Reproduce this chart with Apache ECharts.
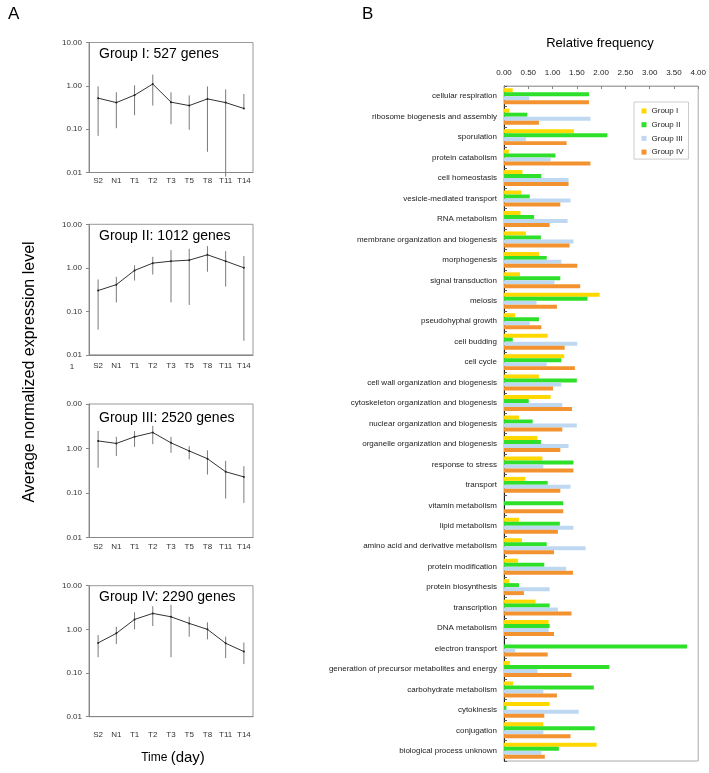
<!DOCTYPE html>
<html><head><meta charset="utf-8">
<script src="https://cdn.jsdelivr.net/npm/echarts@6/dist/echarts.min.js"></script>
<style>html,body{margin:0;padding:0;background:#fff}#c{width:709px;height:773px}</style>
</head><body><div id="c"></div>
<script>
// ---------- Panel A data ----------
const timePoints = ['S2','N1','T1','T2','T3','T5','T8','T11','T14'];
const yTickLabels = ['0.01','0.10','1.00','10.00'];
const yTickLabelsGroup3 = ['0.01','0.10','1.00','0.00'];
const groupTitles = ['Group I: 527 genes','Group II: 1012 genes','Group III: 2520 genes','Group IV: 2290 genes'];

const g1Mean = [0.52,0.41,0.61,1.10,0.42,0.35,0.50,0.41,0.30];
const g1High = [0.97,0.71,1.03,1.82,0.71,0.60,0.97,0.83,0.65];
const g1Low  = [0.07,0.105,0.21,0.35,0.13,0.097,0.03,0.008,0.30];

const g2Mean = [0.30,0.41,0.87,1.28,1.42,1.50,1.99,1.42,1.00];
const g2High = [0.54,0.62,1.15,1.79,2.55,2.73,3.15,2.42,1.86];
const g2Low  = [0.038,0.16,0.51,0.70,0.16,0.14,0.81,0.37,0.021];

const g3Mean = [1.48,1.30,1.83,2.29,1.34,0.88,0.59,0.30,0.23];
const g3High = [2.49,1.83,2.45,3.23,1.83,1.13,0.91,0.53,0.40];
const g3Low  = [0.37,0.68,1.09,1.25,0.80,0.57,0.26,0.075,0.06];

const g4Mean = [0.49,0.81,1.69,2.32,1.94,1.37,1.00,0.48,0.31];
const g4High = [0.74,1.15,2.45,3.40,3.66,1.94,1.45,0.68,0.50];
const g4Low  = [0.23,0.46,1.00,1.19,0.23,0.68,0.59,0.22,0.16];

// ---------- Panel B data ----------
const categories = ['cellular respiration','ribosome biogenesis and assembly','sporulation','protein catabolism','cell homeostasis','vesicle-mediated transport','RNA metabolism','membrane organization and biogenesis','morphogenesis','signal transduction','meiosis','pseudohyphal growth','cell budding','cell cycle','cell wall organization and biogenesis','cytoskeleton organization and biogenesis','nuclear organization and biogenesis','organelle organization and biogenesis','response to stress','transport','vitamin metabolism','lipid metabolism','amino acid and derivative metabolism','protein modification','protein biosynthesis','transcription','DNA metabolism','electron transport','generation of precursor metabolites and energy','carbohydrate metabolism','cytokinesis','conjugation','biological process unknown'];
const groupNames = ['Group I','Group II','Group III','Group IV'];
const freqG1 = [0.18,0.11,1.44,0.10,0.38,0.36,0.34,0.45,0.72,0.33,1.97,0.23,0.90,1.24,0.72,0.96,0.31,0.69,0.79,0.44,0,0.31,0.37,0.29,0.11,0.65,0.92,0,0.12,0.19,0.94,0.81,1.91];
const freqG2 = [1.75,0.48,2.13,1.06,0.77,0.53,0.62,0.76,0.88,1.16,1.72,0.72,0.18,1.18,1.50,0.51,0.59,0.76,1.43,0.90,1.22,1.15,0.88,0.83,0.31,0.94,0.94,3.77,2.17,1.85,0.05,1.87,1.13];
const freqG3 = [0.52,1.78,0.45,0.96,1.33,1.37,1.31,1.43,1.18,1.04,0.67,0.53,1.51,0.88,1.18,1.20,1.50,1.33,0.81,1.37,0,1.43,1.68,1.28,0.94,1.11,0.92,0.23,0.69,0.81,1.54,0.81,0.77];
const freqG4 = [1.75,0.72,1.29,1.78,1.33,1.16,0.94,1.35,1.51,1.57,1.09,0.77,1.25,1.46,1.01,1.40,1.20,1.16,1.43,1.16,1.22,1.11,1.03,1.42,0.41,1.39,1.03,0.90,1.39,1.09,0.83,1.37,0.84];
const xTickFmt = v => v.toFixed(2);

// ---------- layout ----------
const FONT = 'Liberation Sans, Arial, Helvetica, sans-serif';
const panels = [
  {top:42.5, h:130, margin:4, title:54},
  {top:224.3, h:130.5, margin:7, title:236},
  {top:404, h:133.5, margin:5, title:418},
  {top:585.7, h:131, margin:14, title:597}
];
const means = [g1Mean,g2Mean,g3Mean,g4Mean];
const highs = [g1High,g2High,g3High,g4High];
const lows = [g1Low,g2Low,g3Low,g4Low];
const barColors = ['#FFD800','#2EE02A','#BED8F2','#F39330'];
const barData = [freqG1,freqG2,freqG3,freqG4];

const grid = [], xAxis = [], yAxis = [], series = [], graphic = [];
panels.forEach((p, i) => {
  grid.push({left:89, top:p.top, width:164, height:p.h, show:true, borderColor:'#999', borderWidth:1, backgroundColor:'transparent'});
  xAxis.push({type:'category', gridIndex:i, data:timePoints, boundaryGap:true,
    axisLine:{lineStyle:{color:'#888'}}, axisTick:{inside:true, length:3, lineStyle:{color:'#888'}},
    axisLabel:{fontSize:8, color:'#333', margin:p.margin, fontFamily:FONT}, splitLine:{show:false}});
  const labels = i === 2 ? yTickLabelsGroup3 : yTickLabels;
  yAxis.push({type:'log', logBase:10, gridIndex:i, min:0.01, max:10,
    axisLine:{show:true, lineStyle:{color:'#888'}}, axisTick:{show:true, length:3, lineStyle:{color:'#888'}},
    splitLine:{show:false}, minorTick:{show:false},
    axisLabel:{fontSize:8, color:'#333', margin:7, fontFamily:FONT,
      formatter: v => labels[Math.round(Math.log10(v)) + 2]}});
  series.push({type:'custom', xAxisIndex:i, yAxisIndex:i, clip:false, silent:true,
    data: timePoints.map((t, k) => [k, lows[i][k], highs[i][k]]),
    encode:{x:0, y:[1,2]},
    renderItem:(params, api) => {
      const a = api.coord([api.value(0), api.value(1)]);
      const b = api.coord([api.value(0), api.value(2)]);
      return {type:'line', shape:{x1:a[0], y1:a[1], x2:b[0], y2:b[1]}, style:{stroke:'#7a7a7a', lineWidth:1}};
    }, z:2});
  series.push({type:'line', name:'mean'+i, xAxisIndex:i, yAxisIndex:i, data:means[i],
    symbol:'circle', symbolSize:2, itemStyle:{color:'#222'}, lineStyle:{color:'#333', width:1}, z:3});
  graphic.push({type:'text', x:99, y:p.title, style:{text:groupTitles[i], font:'14px ' + FONT, fill:'#000', textVerticalAlign:'middle'}});
});

// Panel B grid
grid.push({left:504, top:86, width:195, height:675, show:true, borderColor:'#aaa', borderWidth:1, backgroundColor:'transparent'});
xAxis.push({type:'value', gridIndex:4, position:'top', min:0, max:4, interval:0.5,
  axisLine:{show:true, lineStyle:{color:'#aaa'}}, axisTick:{show:true, inside:true, length:3, lineStyle:{color:'#888'}},
  splitLine:{show:false}, axisLabel:{fontSize:8, color:'#222', margin:9, fontFamily:FONT, formatter:xTickFmt}});
yAxis.push({type:'category', gridIndex:4, data:categories, inverse:true,
  axisLine:{show:true, lineStyle:{color:'#222'}}, axisTick:{show:true, inside:true, length:3, lineStyle:{color:'#555'}},
  axisLabel:{fontSize:8, color:'#222', margin:7, fontFamily:FONT}});
groupNames.forEach((n, i) => {
  series.push({type:'bar', name:n, xAxisIndex:4, yAxisIndex:4, data:barData[i],
    itemStyle:{color:barColors[i]}, barGap:'0%', barCategoryGap:'22%'});
});

graphic.push({type:'text', x:8, y:14, style:{text:'A', font:'17px ' + FONT, fill:'#000', textVerticalAlign:'middle'}});
graphic.push({type:'text', x:362, y:14, style:{text:'B', font:'17px ' + FONT, fill:'#000', textVerticalAlign:'middle'}});
graphic.push({type:'text', x:600, y:43, style:{text:'Relative frequency', font:'13px ' + FONT, fill:'#000', textAlign:'center', textVerticalAlign:'middle'}});
graphic.push({type:'text', x:30, y:372, rotation:Math.PI/2, style:{text:'Average normalized expression level', font:'16px ' + FONT, fill:'#000', textAlign:'center', textVerticalAlign:'middle'}});
graphic.push({type:'text', x:173, y:758, style:{text:'{a|Time} {b|(day)}', textAlign:'center', textVerticalAlign:'middle',
  rich:{a:{fontSize:12, fontFamily:FONT, fill:'#000'}, b:{fontSize:15, fontFamily:FONT, fill:'#000'}}}});
graphic.push({type:'text', x:72, y:367, style:{text:'1', font:'8px ' + FONT, fill:'#333', textAlign:'center', textVerticalAlign:'middle'}});

const chart = echarts.init(document.getElementById('c'), null, {renderer:'canvas'});
chart.setOption({
  animation:false,
  backgroundColor:'#fff',
  textStyle:{fontFamily:FONT},
  grid, xAxis, yAxis, series, graphic,
  legend:{data:groupNames, orient:'vertical', left:634, top:102, itemWidth:5, itemHeight:5, icon:'rect',
    itemGap:3.7, padding:[4,5,2,7.5], borderColor:'#ccc', borderWidth:1, backgroundColor:'#fff',
    textStyle:{fontSize:8, color:'#222', lineHeight:10, fontFamily:FONT}, selectedMode:false}
});
</script>
</body></html>
